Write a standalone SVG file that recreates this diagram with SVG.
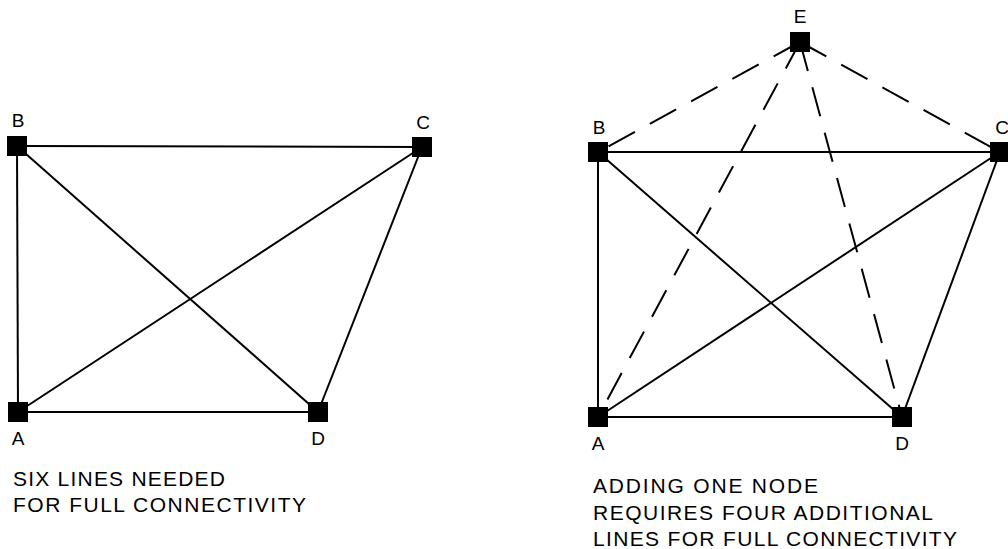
<svg xmlns="http://www.w3.org/2000/svg" width="1008" height="549" viewBox="0 0 1008 549">
<style>
.ln{stroke:#000;stroke-width:2;fill:none}
.ds{stroke:#000;stroke-width:2;fill:none;stroke-dasharray:30 17}
.nd{fill:#000}
.lb{font-family:"Liberation Sans",Arial,sans-serif;font-size:19px;fill:#000;text-anchor:middle}
.cap{font-family:"Liberation Sans",Arial,sans-serif;font-size:21px;fill:#000}
</style>
<rect width="1008" height="549" fill="#fff"/>
<g id="connectors">
<line class="ln" x1="17" y1="146" x2="422" y2="147"/>
<line class="ln" x1="17" y1="146" x2="18" y2="412"/>
<line class="ln" x1="18" y1="412" x2="318" y2="412"/>
<line class="ln" x1="318" y1="412" x2="422" y2="147"/>
<line class="ln" x1="17" y1="146" x2="318" y2="412"/>
<line class="ln" x1="18" y1="412" x2="422" y2="147"/>
<line class="ln" x1="598" y1="152" x2="1000" y2="152"/>
<line class="ln" x1="598" y1="152" x2="598" y2="417"/>
<line class="ln" x1="598" y1="417" x2="902" y2="417"/>
<line class="ln" x1="902" y1="417" x2="1000" y2="152"/>
<line class="ln" x1="598" y1="152" x2="902" y2="417"/>
<line class="ln" x1="598" y1="417" x2="1000" y2="152"/>
<line class="ds" x1="800" y1="42" x2="598" y2="152"/>
<line class="ds" x1="800" y1="42" x2="1000" y2="152"/>
<line class="ds" x1="800" y1="42" x2="598" y2="417"/>
<line class="ds" x1="800" y1="42" x2="902" y2="417"/>
</g>
<g id="L-B"><rect class="nd" x="7" y="136" width="20" height="20"/><text class="lb" x="18" y="127">B</text></g>
<g id="L-C"><rect class="nd" x="412" y="137" width="20" height="20"/><text class="lb" x="423" y="129">C</text></g>
<g id="L-A"><rect class="nd" x="8" y="402" width="20" height="20"/><text class="lb" x="18" y="445">A</text></g>
<g id="L-D"><rect class="nd" x="308" y="402" width="20" height="20"/><text class="lb" x="318" y="445">D</text></g>
<g id="R-E"><rect class="nd" x="790" y="32" width="20" height="20"/><text class="lb" x="800" y="23">E</text></g>
<g id="R-B"><rect class="nd" x="588" y="142" width="20" height="20"/><text class="lb" x="599" y="134">B</text></g>
<g id="R-C"><rect class="nd" x="990" y="142" width="20" height="20"/><text class="lb" x="1002" y="134">C</text></g>
<g id="R-A"><rect class="nd" x="588" y="407" width="20" height="20"/><text class="lb" x="598" y="450">A</text></g>
<g id="R-D"><rect class="nd" x="892" y="407" width="20" height="20"/><text class="lb" x="902" y="450">D</text></g>
<g id="caption-left">
<text class="cap" x="13" y="486" textLength="212" lengthAdjust="spacing">SIX LINES NEEDED</text>
<text class="cap" x="13" y="512" textLength="293" lengthAdjust="spacing">FOR FULL CONNECTIVITY</text>
</g>
<g id="caption-right">
<text class="cap" x="593" y="493" textLength="225" lengthAdjust="spacing">ADDING ONE NODE</text>
<text class="cap" x="593" y="520" textLength="340" lengthAdjust="spacing">REQUIRES FOUR ADDITIONAL</text>
<text class="cap" x="593" y="546" textLength="364" lengthAdjust="spacing">LINES FOR FULL CONNECTIVITY</text>
</g>
</svg>
